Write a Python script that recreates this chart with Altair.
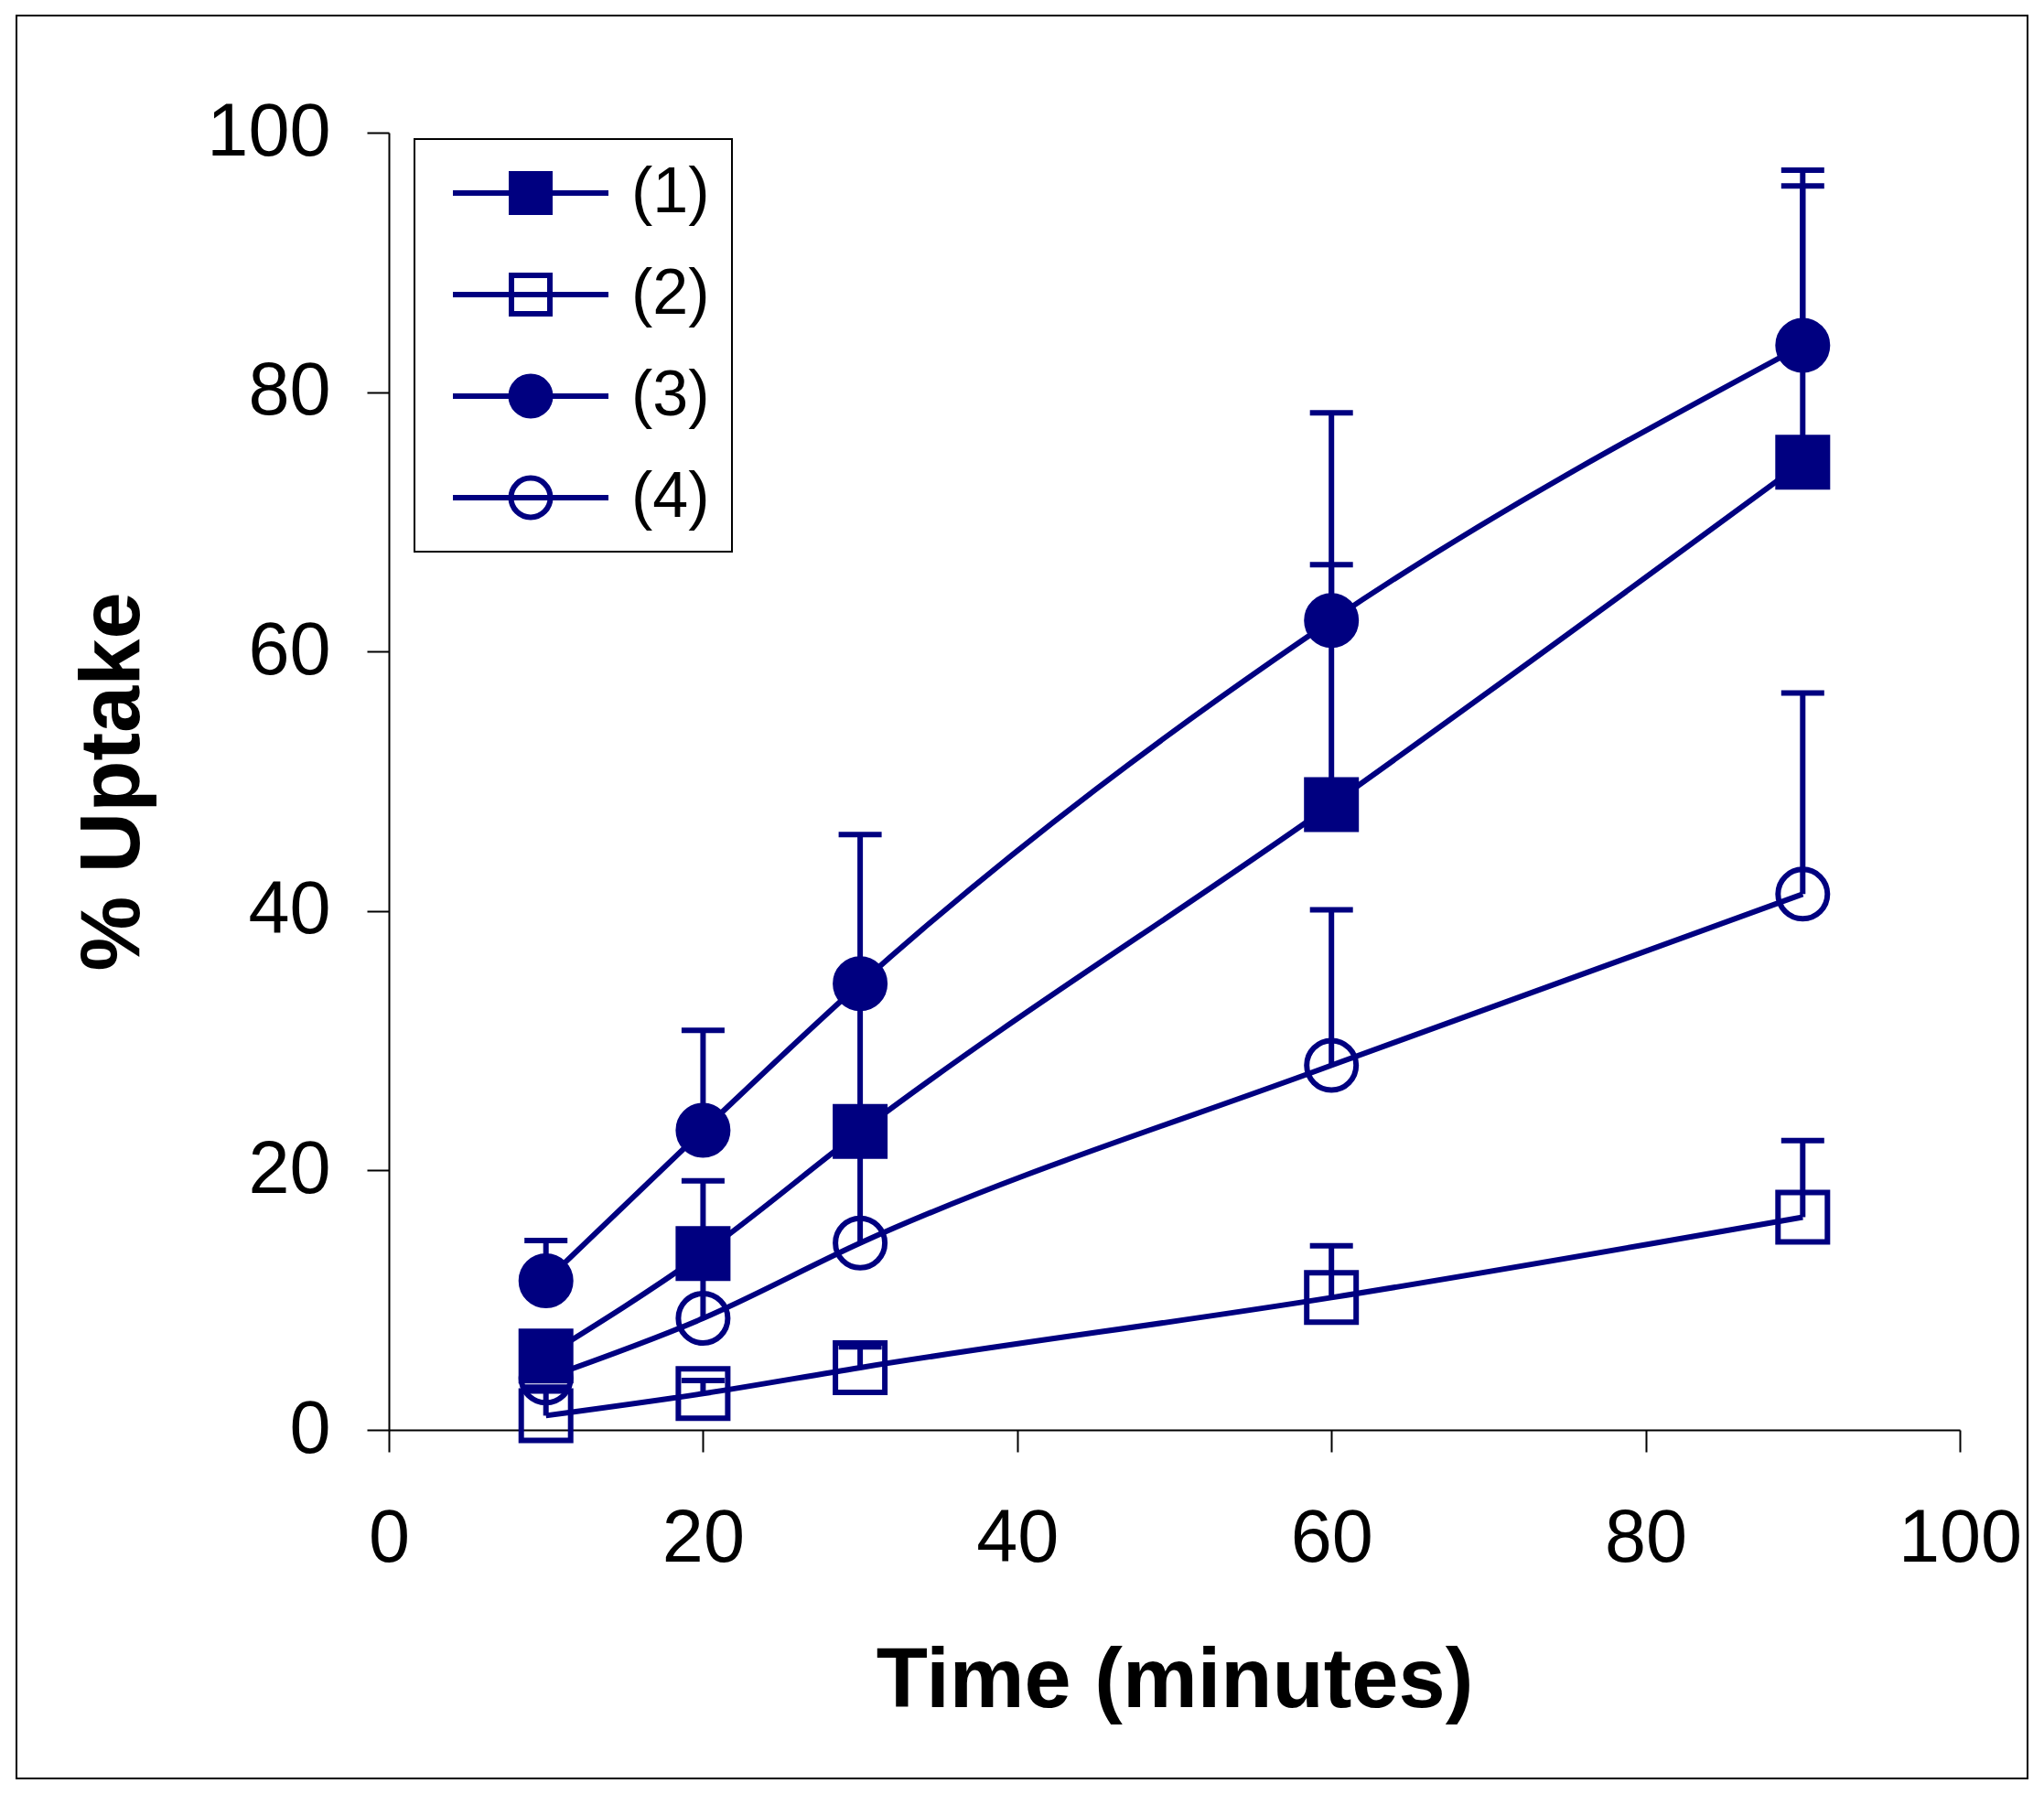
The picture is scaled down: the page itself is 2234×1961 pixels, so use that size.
import altair as alt
import pandas as pd

# ---- data ----
times = [10, 20, 30, 60, 90]
series_names = ["(1)", "(2)", "(3)", "(4)"]

uptake_1 = [5.7, 13.6, 23.0, 48.2, 74.6]
error_1 = [1.8, 5.6, 10.7, 18.5, 21.3]

uptake_2 = [1.1, 2.8, 4.8, 10.2, 16.4]
error_2 = [2.2, 1.0, 1.6, 4.0, 5.9]

uptake_3 = [11.5, 23.1, 34.4, 62.4, 83.6]
error_3 = [3.1, 7.7, 11.5, 16.0, 13.5]

uptake_4 = [4.0, 8.6, 14.4, 28.1, 41.3]
error_4 = [1.0, 4.4, 7.6, 12.0, 15.5]

x_ticks = [0, 20, 40, 60, 80, 100]
y_ticks = [0, 20, 40, 60, 80, 100]

# ---- long table ----
rows = []
for name, vals, errs in zip(series_names,
                            [uptake_1, uptake_2, uptake_3, uptake_4],
                            [error_1, error_2, error_3, error_4]):
    for t, v, e in zip(times, vals, errs):
        rows.append({"time": t, "series": name, "uptake": v, "upper": v + e})
df = pd.DataFrame(rows)

NAVY = "#000080"
FONT = "Liberation Sans"
LW = 6

x_enc = alt.X("time:Q", scale=alt.Scale(domain=[0, 100], nice=False),
              axis=alt.Axis(values=x_ticks, title="Time (minutes)",
                            labelPadding=55, titlePadding=70, format="d"))
y_enc = alt.Y("uptake:Q", scale=alt.Scale(domain=[0, 100], nice=False),
              axis=alt.Axis(values=y_ticks, title="% Uptake",
                            labelPadding=40, titlePadding=55, format="d"))

base = alt.Chart(df)

frame = alt.Chart(pd.DataFrame({"k": [0]})).mark_rect(
    fillOpacity=0, stroke="black", strokeWidth=2
).encode(x=alt.value(-407), x2=alt.value(1791), y=alt.value(-128), y2=alt.value(1799))

rules = base.mark_rule(color=NAVY, strokeWidth=LW).encode(
    x=x_enc, y=y_enc, y2="upper:Q")

caps = base.mark_tick(color=NAVY, orient="horizontal", size=47, thickness=LW,
                      opacity=1).encode(x=x_enc, y="upper:Q")

lines = base.mark_line(color=NAVY, strokeWidth=LW, interpolate="monotone").encode(
    x=x_enc, y=y_enc, detail="series:N")

fill_range = [NAVY, "transparent", NAVY, "transparent"]

points = base.mark_point(stroke=NAVY, strokeWidth=LW, opacity=1).encode(
    x=x_enc, y=y_enc,
    shape=alt.Shape("series:N", scale=alt.Scale(domain=series_names,
                    range=["square", "square", "circle", "circle"]), legend=None),
    fill=alt.Fill("series:N", scale=alt.Scale(domain=series_names, range=fill_range),
                  legend=None),
    size=alt.Size("series:N", scale=alt.Scale(domain=series_names,
                  range=[2916, 2916, 2450, 2350]), legend=None),
)

sq_path = "M-3.4,0H3.4M-0.84,-0.84H0.84V0.84H-0.84Z"
ci_path = "M-3.4,0H3.4M0.86,0A0.86,0.86,0,1,1,-0.86,0A0.86,0.86,0,1,1,0.86,0Z"

legend_spec = alt.Legend(
    title=None, orient="none", legendX=28, legendY=7,
    labelFont=FONT, labelFontSize=70, labelColor="black",
    symbolSize=2500, symbolStrokeWidth=6, symbolStrokeColor=NAVY,
    symbolOpacity=1, labelOffset=75, symbolOffset=68,
    strokeColor="black", padding=24, rowPadding=41,
)

legend_layer = alt.Chart(df).transform_filter("false").mark_point(
    strokeWidth=6, opacity=1, size=2500
).encode(
    x=x_enc, y=y_enc,
    shape=alt.Shape("series:N", scale=alt.Scale(domain=series_names,
                    range=[sq_path, sq_path, ci_path, ci_path]), legend=legend_spec),
    fill=alt.Fill("series:N", scale=alt.Scale(domain=series_names, range=fill_range),
                  legend=legend_spec),
    stroke=alt.Stroke("series:N", scale=alt.Scale(domain=series_names,
                      range=[NAVY, NAVY, NAVY, NAVY]), legend=legend_spec),
)

chart = alt.layer(frame, rules, caps, lines, points, legend_layer).resolve_scale(
    shape="independent", fill="independent", size="independent", stroke="independent"
).properties(
    width=1717, height=1418,
    autosize=alt.AutoSizeParams(type="none"),
    padding={"left": 417, "top": 137, "right": 84, "bottom": 390},
    background="white",
).configure_view(stroke=None).configure_axis(
    labelFont=FONT, labelFontSize=81, labelColor="black",
    titleFont=FONT, titleFontSize=92, titleFontWeight="bold", titleColor="black",
    domainColor="black", domainWidth=2, tickColor="black", tickWidth=2, tickSize=24,
    grid=False, labelFlush=False, labelOverlap=False,
).configure_legend(
    strokeWidth=2,
)

chart.save("out.html", embed_options={"renderer": "svg", "actions": False})
